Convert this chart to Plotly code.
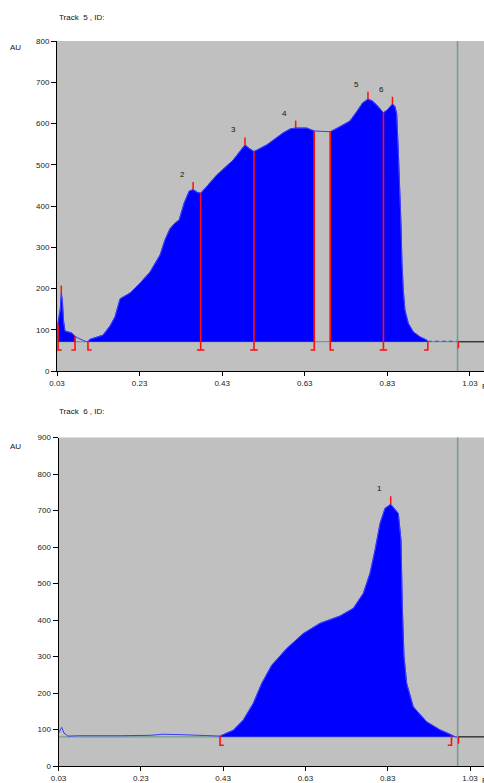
import numpy as np
import plotly.graph_objects as go

# ---------------- data: Track 5 ----------------
T5_RF = [0.0324, 0.0380, 0.0404, 0.0430, 0.0460, 0.0494, 0.0560, 0.0663, 0.0736,
         0.0808, 0.0990, 0.1050,
         0.1099, 0.1269, 0.1414, 0.1583, 0.1704, 0.1826, 0.2068, 0.2310, 0.2552,
         0.2794, 0.2915, 0.3036, 0.3150, 0.3257, 0.3378, 0.3499, 0.3596, 0.3700,
         0.3779, 0.3950, 0.4167, 0.4562, 0.4750, 0.4852, 0.4950, 0.5070, 0.5377,
         0.5772, 0.5950, 0.6080, 0.6346, 0.6530,
         0.6917, 0.7152, 0.7394, 0.7588, 0.7700, 0.7830, 0.7930, 0.8041, 0.8205,
         0.8297, 0.8423, 0.8480, 0.8525, 0.8564, 0.8605, 0.8629, 0.8654, 0.8685,
         0.8726, 0.8806, 0.8927, 0.9089, 0.9252, 0.9280]
T5_AU = [116, 150, 189, 170, 120, 97, 95, 92, 84,
         80, 72, 71,
         77, 82, 87, 109, 131, 175, 189, 213, 240,
         281, 318, 345, 358, 366, 407, 436, 440, 433,
         431, 450, 475, 511, 535, 548, 540, 532, 548,
         577, 587, 589, 589, 582,
         580, 592, 606, 633, 650, 659, 655, 645, 626,
         633, 647, 642, 625, 536, 439, 359, 262, 196,
         148, 116, 95, 83, 75, 72]
T5_BASE = 71
T5_FILLED = [(0.0324, 0.0736), (0.1050, 0.6530), (0.6917, 0.9280)]
T5_CUTS = [0.0324, 0.0736, 0.1050, 0.3779, 0.5070, 0.6530, 0.6917, 0.8205, 0.9280]
T5_CUT_KIND = ["R", "L", "R", "B", "B", "L", "R", "B", "L"]
T5_PEAKS = [0.0404, 0.3596, 0.4852, 0.6080, 0.7830, 0.8423]
T5_PEAK_LABELS = ["", "2", "3", "4", "5", "6"]
T5_YTICKS = [0, 100, 200, 300, 400, 500, 600, 700, 800]

# ---------------- data: Track 6 ----------------
T6_RF = [0.0300, 0.0378, 0.0434, 0.0531, 0.0822, 0.1308, 0.1795, 0.2524, 0.2840,
         0.3253, 0.3739, 0.4226,
         0.4548, 0.4791, 0.5034, 0.5238, 0.5481, 0.5846, 0.6249, 0.6655, 0.7141,
         0.7464, 0.7707, 0.7870, 0.7991, 0.8113, 0.8235, 0.8373, 0.8558, 0.8623,
         0.8655, 0.8696, 0.8762, 0.8922, 0.9248, 0.9571, 0.9855, 0.9935]
T6_AU = [90, 106, 90, 82, 83, 84, 83, 84, 87,
         86, 83, 82,
         98, 126, 172, 226, 276, 322, 363, 391, 411,
         432, 473, 528, 591, 664, 706, 717, 692, 619,
         436, 299, 226, 162, 121, 99, 85, 80]
T6_BASE = 80
T6_FILLED = [(0.4226, 0.9935)]
T6_CUTS = [0.4226, 0.9850]
T6_CUT_KIND = ["R", "L"]
T6_PEAKS = [0.8373]
T6_PEAK_LABELS = ["1"]
T6_YTICKS = [0, 100, 200, 300, 400, 500, 600, 700, 800, 900]

RF_FRONT = 1.0
X_TICKS = [0.03, 0.23, 0.43, 0.63, 0.83, 1.03]
X_RANGE = [0.03, 1.064]

W, H = 484, 783
BLUE = "#0000ff"
EDGE = "#3a3aff"
RED = "#ff1010"
TEAL = "#6f9c98"

fig = go.Figure()


def add_panel(xa, ya, rf, au, base, filled, cuts, kinds, peaks, labels, foot, tick_h, dy):
    rf = np.array(rf, float)
    au = np.array(au, float)
    fig.add_trace(go.Scatter(x=[X_RANGE[0], RF_FRONT], y=[base, base], mode="lines",
                             line=dict(color=TEAL, width=1.2), xaxis=xa, yaxis=ya,
                             hoverinfo="skip", showlegend=False))
    fig.add_trace(go.Scatter(x=[RF_FRONT, X_RANGE[1]], y=[base, base], mode="lines",
                             line=dict(color="#3a3a3a", width=1.5), xaxis=xa, yaxis=ya,
                             hoverinfo="skip", showlegend=False))
    for a, b in filled:
        m = (rf >= a - 1e-9) & (rf <= b + 1e-9)
        xs = [a] + list(rf[m]) + [b]
        ys = [base] + list(au[m]) + [base]
        fig.add_trace(go.Scatter(x=xs, y=ys, mode="lines", fill="toself",
                                 fillcolor=BLUE, line=dict(color=EDGE, width=1),
                                 xaxis=xa, yaxis=ya, hoverinfo="skip", showlegend=False))
    fig.add_trace(go.Scatter(x=rf, y=au, mode="lines", line=dict(color=EDGE, width=1),
                             xaxis=xa, yaxis=ya, hoverinfo="skip", showlegend=False))
    fig.add_trace(go.Scatter(x=[rf[-1], RF_FRONT], y=[au[-1], au[-1]], mode="lines",
                             line=dict(color="#4a4aff", width=1.2, dash="4px,3px"),
                             xaxis=xa, yaxis=ya, hoverinfo="skip", showlegend=False))
    fig.add_trace(go.Scatter(x=[RF_FRONT, RF_FRONT], y=[0, 2000], mode="lines",
                             line=dict(color=TEAL, width=1.5), xaxis=xa, yaxis=ya,
                             hoverinfo="skip", showlegend=False))
    fw = 0.009
    for c, k in zip(cuts, kinds):
        top = float(np.interp(c, rf, au))
        xs = [c, c]
        ys = [top, foot]
        if k == "R":
            xs += [c + fw]; ys += [foot]
        elif k == "L":
            xs += [c - fw]; ys += [foot]
        else:
            xs = [c, c, None, c - fw, c + fw]
            ys = [top, foot, None, foot, foot]
        fig.add_trace(go.Scatter(x=xs, y=ys, mode="lines", line=dict(color=RED, width=1.6),
                                 xaxis=xa, yaxis=ya, hoverinfo="skip", showlegend=False))
    fig.add_trace(go.Scatter(x=[RF_FRONT + 0.002, RF_FRONT + 0.002], y=[base, foot + 4], mode="lines",
                             line=dict(color=RED, width=1.5), xaxis=xa, yaxis=ya,
                             hoverinfo="skip", showlegend=False))
    for p, lab in zip(peaks, labels):
        top = float(np.interp(p, rf, au))
        fig.add_trace(go.Scatter(x=[p, p], y=[top, top + tick_h], mode="lines",
                                 line=dict(color=RED, width=1.5), xaxis=xa, yaxis=ya,
                                 hoverinfo="skip", showlegend=False))
        if lab:
            fig.add_annotation(x=p, y=top, xref=xa, yref=ya,
                               text=lab, showarrow=False, xshift=-11, yshift=dy,
                               font=dict(size=8, color="#111", family="Liberation Sans"))


add_panel("x", "y", T5_RF, T5_AU, T5_BASE, T5_FILLED, T5_CUTS, T5_CUT_KIND,
          T5_PEAKS, T5_PEAK_LABELS, 51, 18, 15)
add_panel("x2", "y2", T6_RF, T6_AU, T6_BASE, T6_FILLED, T6_CUTS, T6_CUT_KIND,
          T6_PEAKS, T6_PEAK_LABELS, 57, 22, 16)

axis_font = dict(size=8, color="#222", family="Liberation Sans")
xcommon = dict(range=X_RANGE, tickvals=X_TICKS, ticktext=[f"{v:.2f}" for v in X_TICKS],
               showline=True, linecolor="black", linewidth=1, ticks="outside", ticklen=4,
               tickcolor="black", showgrid=False, zeroline=False, tickfont=axis_font,
               automargin=False)
ycommon = dict(showline=True, linecolor="black", linewidth=1, ticks="outside", ticklen=5,
               tickcolor="black", showgrid=False, zeroline=False, tickfont=axis_font,
               automargin=False)

fig.update_layout(
    width=W, height=H, margin=dict(l=0, r=0, t=0, b=0, autoexpand=False),
    paper_bgcolor="white", plot_bgcolor="#c0c0c0", showlegend=False,
    xaxis=dict(domain=[57 / W, 1], anchor="y", **xcommon),
    yaxis=dict(domain=[(H - 371) / H, (H - 41) / H], anchor="x", range=[0, 800],
               tickvals=T5_YTICKS, **ycommon),
    xaxis2=dict(domain=[58.5 / W, 1], anchor="y2", **xcommon),
    yaxis2=dict(domain=[(H - 766) / H, (H - 437.5) / H], anchor="x2", range=[0, 900],
                tickvals=T6_YTICKS, **ycommon),
)

txt = dict(size=8, color="#111", family="Liberation Sans")
for title, ty, auy, ry in [("Track  5 , ID:", 17, 48, 386), ("Track  6 , ID:", 411, 447, 780)]:
    fig.add_annotation(x=57 / W, y=(H - ty) / H, xref="paper", yref="paper", text=title,
                       showarrow=False, xanchor="left", yanchor="middle", font=txt)
    fig.add_annotation(x=15 / W, y=(H - auy) / H, xref="paper", yref="paper", text="AU",
                       showarrow=False, xanchor="center", yanchor="middle", font=txt)
    fig.add_annotation(x=480 / W, y=(H - ry) / H, xref="paper", yref="paper", text="Rf",
                       showarrow=False, xanchor="left", yanchor="middle", font=txt)

fig.write_html("out.html", config={"displayModeBar": False, "staticPlot": True},
               post_script="document.body.style.margin='0';document.body.style.overflow='hidden';")
